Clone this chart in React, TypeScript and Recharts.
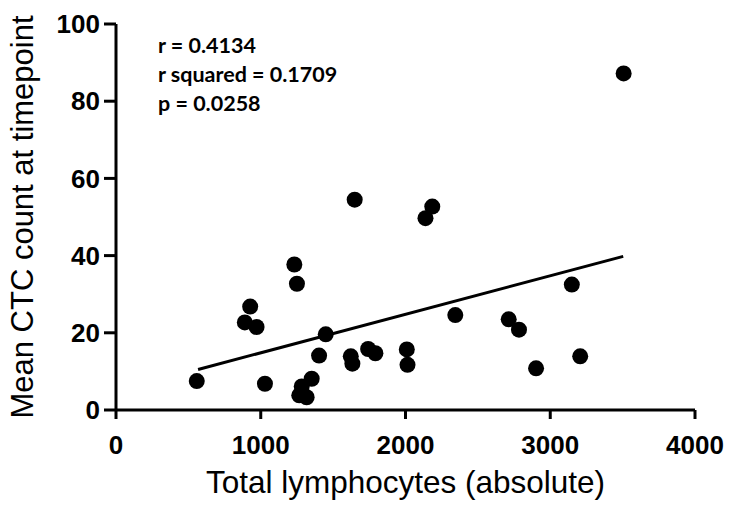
import { ScatterChart, Scatter, XAxis, YAxis, ReferenceLine, Customized, Label } from 'recharts'

// Total lymphocytes (x) vs mean CTC count (y)
const lymphocytes = [558, 1029, 890, 927, 971, 1232, 1250, 1266, 1283, 1317, 1352, 1403, 1449, 1649, 1622, 1633, 1742, 1792, 2009, 2014, 2138, 2185, 2344, 2713, 2784, 2902, 3149, 3207, 3507]
const ctcCounts = [7.5, 6.8, 22.7, 26.8, 21.5, 37.7, 32.7, 3.8, 6.1, 3.3, 8.1, 14.1, 19.6, 54.5, 13.9, 12.0, 15.8, 14.7, 15.7, 11.7, 49.7, 52.7, 24.6, 23.5, 20.8, 10.8, 32.5, 13.9, 87.2]

const xTicks = [0, 1000, 2000, 3000, 4000]
const yTicks = [0, 20, 40, 60, 80, 100]

// linear fit end points
const fitX = [567, 3504]
const fitY = [10.5, 39.8]

const statLines = ['r = 0.4134', 'r squared = 0.1709', 'p = 0.0258']

const points = lymphocytes.map((x, i) => ({ x, y: ctcCounts[i] }))

const axisFont = 'Liberation Sans, Arial, sans-serif'

const Dot = (props: any) => <circle cx={props.cx} cy={props.cy} r={8} fill="#000" />

const StatsText = () => (
  <g>
    {statLines.map((t, i) => (
      <text
        key={t}
        x={158}
        y={53 + i * 29}
        fontFamily="Lato, 'Open Sans', sans-serif"
        fontWeight="bold"
        fontSize={21.5}
        fill="#000"
      >
        {t}
      </text>
    ))}
  </g>
)

export default function App() {
  return (
    <div style={{ position: 'absolute', left: 0, top: 0, background: '#fff' }}>
      <ScatterChart width={738} height={512} margin={{ top: 24, right: 43, left: 0, bottom: 0 }}>
        <XAxis
          type="number"
          dataKey="x"
          domain={[0, 4000]}
          ticks={xTicks}
          height={102}
          tickSize={9}
          tickMargin={17}
          axisLine={{ stroke: '#000', strokeWidth: 3 }}
          tickLine={{ stroke: '#000', strokeWidth: 3 }}
          tick={{ fill: '#000', fontSize: 26, fontWeight: 'bold', fontFamily: axisFont }}
        >
          <Label
            content={({ viewBox }: any) => (
              <text
                x={viewBox.x + viewBox.width / 2}
                y={viewBox.y + 83}
                textAnchor="middle"
                fontSize={31.5}
                fontFamily={axisFont}
                fill="#000"
              >
                Total lymphocytes (absolute)
              </text>
            )}
          />
        </XAxis>
        <YAxis
          type="number"
          dataKey="y"
          domain={[0, 100]}
          ticks={yTicks}
          width={116}
          tickSize={12}
          tickMargin={4}
          axisLine={{ stroke: '#000', strokeWidth: 3 }}
          tickLine={{ stroke: '#000', strokeWidth: 3 }}
          tick={{ fill: '#000', fontSize: 26, fontWeight: 'bold', fontFamily: axisFont }}
        >
          <Label
            content={({ viewBox }: any) => {
              const cx = viewBox.x + 33
              const cy = viewBox.y + viewBox.height / 2
              return (
                <text
                  x={cx}
                  y={cy}
                  textAnchor="middle"
                  transform={`rotate(-90, ${cx}, ${cy})`}
                  fontSize={31}
                  fontFamily={axisFont}
                  fill="#000"
                >
                  Mean CTC count at timepoint
                </text>
              )
            }}
          />
        </YAxis>
        <ReferenceLine
          segment={[
            { x: fitX[0], y: fitY[0] },
            { x: fitX[1], y: fitY[1] },
          ]}
          stroke="#000"
          strokeWidth={3}
          ifOverflow="visible"
        />
        <Scatter data={points} shape={Dot} isAnimationActive={false} />
        <Customized component={StatsText} />
      </ScatterChart>
    </div>
  )
}
